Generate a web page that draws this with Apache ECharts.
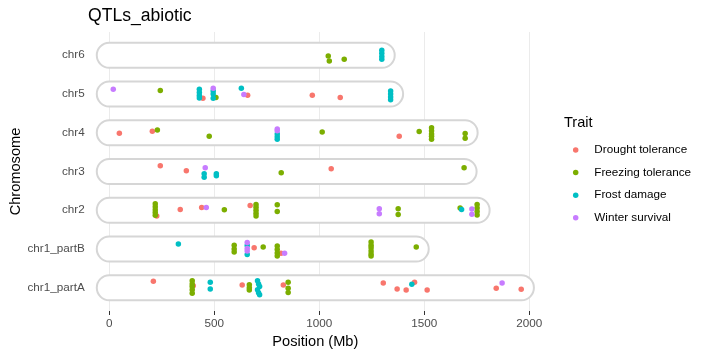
<!DOCTYPE html>
<html><head><meta charset="utf-8">
<script src="https://cdn.jsdelivr.net/npm/echarts@6/dist/echarts.min.js"></script>
<style>html,body{margin:0;padding:0;background:#fff}#c{width:710px;height:355px}</style>
</head><body><div id="c"></div>
<script>
const chromosomes = ['chr1_partA','chr1_partB','chr2','chr3','chr4','chr5','chr6'];
const chromLengths = [1963,1462,1752,1690,1695,1340,1300];
const traits = ['Drought tolerance','Freezing tolerance','Frost damage','Winter survival'];
const traitColors = ['#F8766D','#7CAE00','#00BFC4','#C77CFF'];
const xTicks = [0,500,1000,1500,2000];

// [chromosome, position (Mb), vertical jitter (rows)]
const drought = [
 ['chr5',446,-0.11],['chr5',659,-0.03],['chr5',967,-0.03],['chr5',1100,-0.09],
 ['chr4',48,-0.01],['chr4',205,0.04],['chr4',1381,-0.09],
 ['chr3',243,0.15],['chr3',367,0.02],['chr3',1057,0.07],
 ['chr2',226,-0.15],['chr2',338,0.02],['chr2',440,0.07],['chr2',671,0.12],
 ['chr1_partB',690,0.03],['chr1_partB',818,-0.11],
 ['chr1_partA',210,0.17],['chr1_partA',400,0.05],['chr1_partA',633,0.07],['chr1_partA',829,0.07],['chr1_partA',1305,0.12],['chr1_partA',1371,-0.03],['chr1_partA',1414,-0.06],['chr1_partA',1454,0.14],['chr1_partA',1514,-0.06],['chr1_partA',1843,-0.01],['chr1_partA',1962,-0.04]
];
const freezing = [
 ['chr6',1043,-0.02],['chr6',1048,-0.15],['chr6',1119,-0.10],
 ['chr5',243,0.09],['chr5',508,-0.09],
 ['chr4',229,0.07],['chr4',476,-0.09],['chr4',1014,0.02],['chr4',1476,0.03],['chr4',1535,0.13],['chr4',1535,0.05],['chr4',1535,-0.03],['chr4',1535,-0.09],['chr4',1535,-0.17],['chr4',1695,-0.02],['chr4',1695,-0.14],
 ['chr3',819,-0.03],['chr3',1690,0.10],
 ['chr2',219,0.17],['chr2',219,0.09],['chr2',219,0.01],['chr2',219,-0.06],['chr2',219,-0.13],['chr2',548,0.01],['chr2',699,0.15],['chr2',699,0.08],['chr2',699,0],['chr2',699,-0.08],['chr2',699,-0.15],['chr2',800,0.14],['chr2',800,-0.03],['chr2',1376,0.04],['chr2',1376,-0.11],['chr2',1671,0.06],['chr2',1752,0.15],['chr2',1752,0.06],['chr2',1752,-0.03],['chr2',1752,-0.12],
 ['chr1_partB',595,0.10],['chr1_partB',595,0],['chr1_partB',595,-0.08],['chr1_partB',733,0.05],['chr1_partB',800,0.08],['chr1_partB',800,-0.01],['chr1_partB',800,-0.10],['chr1_partB',800,-0.18],['chr1_partB',1247,0.18],['chr1_partB',1247,0.10],['chr1_partB',1247,0.03],['chr1_partB',1247,-0.05],['chr1_partB',1247,-0.13],['chr1_partB',1247,-0.18],['chr1_partB',1462,0.05],
 ['chr1_partA',395,0.18],['chr1_partA',395,0.10],['chr1_partA',395,0.03],['chr1_partA',395,-0.05],['chr1_partA',395,-0.14],['chr1_partA',667,0.08],['chr1_partA',667,0],['chr1_partA',667,-0.06],['chr1_partA',852,0.14],['chr1_partA',852,-0.01],['chr1_partA',852,-0.12]
];
const frost = [
 ['chr6',1298,0.13],['chr6',1298,0.05],['chr6',1298,-0.03],['chr6',1298,-0.10],
 ['chr5',429,0.12],['chr5',429,0.04],['chr5',429,-0.04],['chr5',429,-0.10],['chr5',495,0.08],['chr5',495,0],['chr5',495,-0.11],['chr5',629,0.15],['chr5',1340,0.08],['chr5',1340,0],['chr5',1340,-0.08],['chr5',1340,-0.15],
 ['chr4',800,-0.03],['chr4',800,-0.10],['chr4',800,-0.17],
 ['chr3',452,-0.06],['chr3',452,-0.15],['chr3',510,-0.06],['chr3',510,-0.11],
 ['chr2',1678,0.02],
 ['chr1_partB',329,0.13],['chr1_partB',657,0.09],['chr1_partB',657,-0.14],
 ['chr1_partA',481,0.14],['chr1_partA',481,-0.03],['chr1_partA',706,0.18],['chr1_partA',711,0.10],['chr1_partA',716,0.03],['chr1_partA',706,-0.05],['chr1_partA',711,-0.13],['chr1_partA',716,-0.18],['chr1_partA',1441,0.09]
];
const winter = [
 ['chr5',19,0.12],['chr5',495,0.15],['chr5',641,-0.01],
 ['chr4',800,0.10],['chr4',800,0.05],
 ['chr3',457,0.10],
 ['chr2',462,0.07],['chr2',1286,0.04],['chr2',1286,-0.09],['chr2',1727,0.03],['chr2',1727,-0.10],
 ['chr1_partB',657,0.17],['chr1_partB',657,0.01],['chr1_partB',657,-0.05],['chr1_partB',835,-0.11],
 ['chr1_partA',1871,0.12]
];
const traitData = [drought, freezing, frost, winter];

const chart = echarts.init(document.getElementById('c'), null, {renderer:'canvas'});
const FONT = 'Liberation Sans, Arial, sans-serif';
const capsuleRows = 0.645;
const yMin = -0.6, yMax = 6.6;

const capsuleSeries = {
  type:'custom', name:'chromosomes', silent:true, z:1,
  data: chromLengths.map((len,i)=>[len,i]),
  renderItem(params, api){
    const len = api.value(0), idx = api.value(1);
    const s = api.coord([0, idx]), e = api.coord([len, idx]);
    const h = api.size([0, capsuleRows])[1];
    return {type:'rect', shape:{x:s[0]-h/2, y:s[1]-h/2, width:e[0]-s[0]+h, height:h, r:h/2},
      style:{fill:'#ffffff', stroke:'#d6d6d6', lineWidth:2}};
  }
};

// x-axis tick marks below the panel
const tickSeries = {
  type:'custom', name:'ticks', silent:true, z:1, clip:false,
  data: xTicks.map(v=>[v, yMin]),
  renderItem(params, api){
    const p = api.coord([api.value(0), api.value(1)]);
    const x = Math.round(p[0]) + 0.5;
    return {type:'line', shape:{x1:x, y1:p[1], x2:x, y2:p[1]+4}, style:{stroke:'#333', lineWidth:1}};
  }
};

const scatterSeries = traits.map((t,k)=>({
  type:'scatter', name:t, z:3, symbolSize:5.5,
  itemStyle:{color:traitColors[k], opacity:1},
  data: traitData[k].map(d=>[d[1], chromosomes.indexOf(d[0]) + d[2]])
}));

chart.setOption({
  animation:false,
  backgroundColor:'#fff',
  title:[
    {text:'QTLs_abiotic', left:88, top:7, padding:0, textStyle:{fontFamily:FONT, fontSize:17.6, fontWeight:'normal', color:'#000'}},
    {text:'Trait', left:564, top:115, padding:0, textStyle:{fontFamily:FONT, fontSize:14.6, fontWeight:'normal', color:'#000'}}
  ],
  grid:{left:88.7, top:32, width:453.3, height:279, containLabel:false, outerBoundsMode:'none'},
  xAxis:{
    type:'value', min:-98, max:2061,
    name:'Position (Mb)', nameLocation:'middle', nameGap:22,
    nameTextStyle:{fontFamily:FONT, fontSize:14.6, color:'#000'},
    axisLine:{show:false},
    axisTick:{show:true, customValues:xTicks, length:4, lineStyle:{color:'rgba(0,0,0,0)'}},
    axisLabel:{customValues:xTicks, margin:7, fontFamily:FONT, fontSize:11.7, color:'#4D4D4D', formatter:(v)=>String(v)},
    splitLine:{show:true, lineStyle:{color:'#EBEBEB', width:1}}
  },
  yAxis:{
    type:'value', min:yMin, max:yMax,
    name:'Chromosome', nameLocation:'middle', nameGap:65, nameRotate:90, nameMoveOverlap:false,
    nameTextStyle:{fontFamily:FONT, fontSize:14.6, color:'#000'},
    axisLine:{show:false}, axisTick:{show:false},
    splitLine:{show:false},
    axisLabel:{customValues:chromosomes.map((c,i)=>i), margin:4, fontFamily:FONT, fontSize:11.7, color:'#4D4D4D',
      formatter:(v)=>chromosomes[Math.round(v)]}
  },
  legend:{
    orient:'vertical', left:572.95, top:144, padding:0,
    data:traits, icon:'circle', itemWidth:5.5, itemHeight:5.5, itemGap:10.6,
    textStyle:{fontFamily:FONT, fontSize:11.7, color:'#000', padding:[0,0,0,10.85]}
  },
  series:[capsuleSeries, tickSeries, ...scatterSeries]
});
</script></body></html>
